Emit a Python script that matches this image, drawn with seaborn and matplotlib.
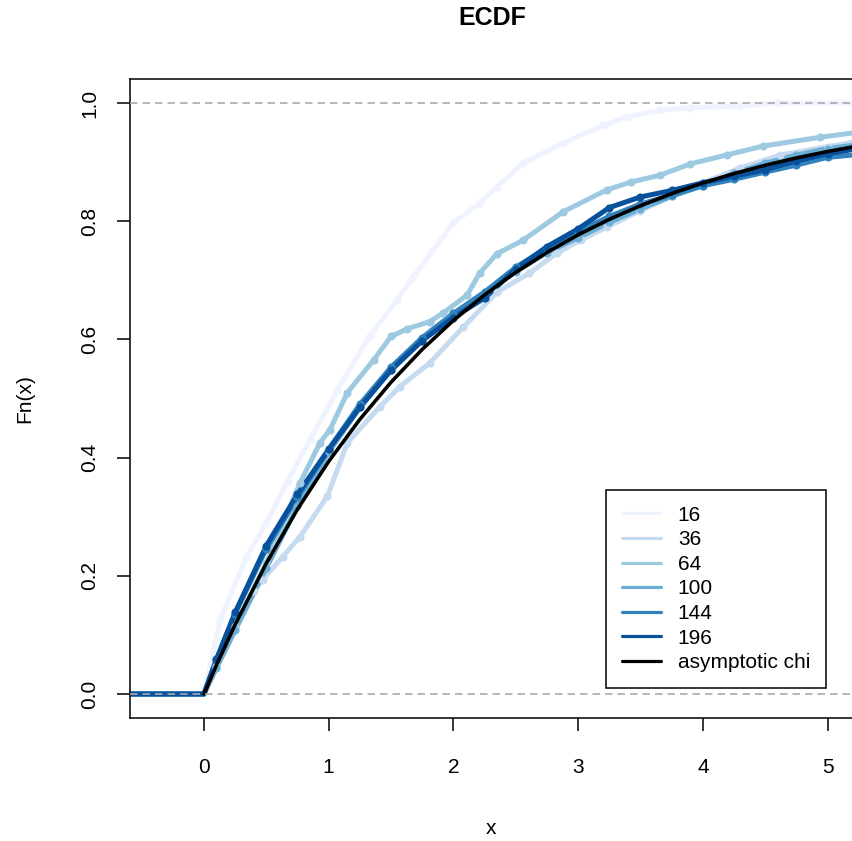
import matplotlib
matplotlib.use("Agg")
import matplotlib.pyplot as plt
import pandas as pd
import seaborn as sns
from matplotlib.lines import Line2D

sns.set_theme(style="white")
plt.rcParams["font.family"] = ["Liberation Sans", "DejaVu Sans"]
plt.rcParams["text.color"] = "black"
plt.rcParams["axes.labelcolor"] = "black"

# Sample sizes of the simulated statistics and their colours
sizes = ["16", "36", "64", "100", "144", "196"]
colors = ["#EFF3FF", "#C6DBEF", "#9ECAE1", "#6BAED6", "#3182BD", "#08519C"]

# Empirical CDF values (Fn) at selected x positions for each sample size
x_16 = [-0.6, 0, 0.13, 0.34, 0.5, 0.67, 0.85, 1.07, 1.33, 1.55, 1.68, 2.0, 2.21,
        2.35, 2.56, 2.88, 3.2, 3.39, 3.66, 3.9, 4.3, 4.6, 5.3]
F_16 = [0, 0, 0.125, 0.232, 0.289, 0.36, 0.43, 0.514, 0.606, 0.667, 0.706, 0.797,
        0.831, 0.858, 0.898, 0.932, 0.962, 0.976, 0.988, 0.992, 0.995, 1.0, 1.0]

x_36 = [-0.6, 0, 0.1, 0.25, 0.4, 0.47, 0.63, 0.77, 0.99, 1.15, 1.41, 1.57, 1.81,
        2.08, 2.35, 2.61, 2.83, 3.02, 3.23, 3.5, 3.75, 4.0, 4.3, 4.62, 5.0, 5.3]
F_36 = [0, 0, 0.045, 0.112, 0.175, 0.193, 0.232, 0.266, 0.335, 0.425, 0.486, 0.52,
        0.56, 0.621, 0.68, 0.712, 0.746, 0.768, 0.79, 0.818, 0.842, 0.865, 0.89,
        0.912, 0.926, 0.937]

x_64 = [-0.6, 0, 0.1, 0.25, 0.5, 0.77, 0.93, 1.01, 1.15, 1.36, 1.5, 1.63, 1.81,
        1.92, 2.11, 2.21, 2.35, 2.56, 2.88, 3.23, 3.42, 3.66, 3.9, 4.19, 4.48,
        4.94, 5.3]
F_64 = [0, 0, 0.047, 0.115, 0.222, 0.357, 0.425, 0.447, 0.51, 0.565, 0.605, 0.618,
        0.63, 0.645, 0.675, 0.712, 0.745, 0.768, 0.816, 0.853, 0.866, 0.878,
        0.897, 0.912, 0.927, 0.942, 0.952]

x_grid = [-0.6, 0, 0.1, 0.25, 0.5, 0.75, 1.0, 1.25, 1.5, 1.75, 2.0, 2.25, 2.5,
          2.75, 3.0, 3.25, 3.5, 3.75, 4.0, 4.25, 4.5, 4.75, 5.0, 5.3]
F_100 = [0, 0, 0.044, 0.108, 0.213, 0.318, 0.409, 0.485, 0.548, 0.598, 0.642,
         0.680, 0.714, 0.747, 0.772, 0.798, 0.821, 0.842, 0.860, 0.881, 0.898,
         0.912, 0.923, 0.931]
F_144 = [0, 0, 0.057, 0.136, 0.246, 0.333, 0.414, 0.490, 0.553, 0.603, 0.644,
         0.680, 0.722, 0.755, 0.782, 0.808, 0.829, 0.844, 0.860, 0.871, 0.883,
         0.895, 0.908, 0.914]
F_196 = [0, 0, 0.059, 0.138, 0.251, 0.338, 0.414, 0.485, 0.548, 0.598, 0.637,
         0.670, 0.719, 0.757, 0.787, 0.823, 0.841, 0.852, 0.865, 0.876, 0.887,
         0.902, 0.914, 0.925]

# Asymptotic chi-square CDF
x_chi = [0, 0.1, 0.25, 0.5, 0.75, 1.0, 1.25, 1.5, 1.75, 2.0, 2.25, 2.5, 2.75,
         3.0, 3.25, 3.5, 3.75, 4.0, 4.25, 4.5, 4.75, 5.0, 5.3]
F_chi = [0, 0.0488, 0.1175, 0.2212, 0.3127, 0.3935, 0.4647, 0.5276, 0.5831,
         0.6321, 0.6753, 0.7135, 0.7471, 0.7769, 0.8031, 0.8262, 0.8466, 0.8647,
         0.8806, 0.8946, 0.9070, 0.9179, 0.9294]

series = [(x_16, F_16), (x_36, F_36), (x_64, F_64),
          (x_grid, F_100), (x_grid, F_144), (x_grid, F_196)]
df = pd.concat(
    [pd.DataFrame({"x": xs, "Fn": fs, "n": n}) for n, (xs, fs) in zip(sizes, series)],
    ignore_index=True,
)

fig = plt.figure(figsize=(8.53, 8.41), dpi=100)
ax = fig.add_axes([130 / 853, 1 - 718 / 841, 723 / 853, 639 / 841])

for n, c in zip(sizes, colors):
    sub = df[df["n"] == n]
    sns.lineplot(data=sub, x="x", y="Fn", color=c, lw=3.6, estimator=None,
                 sort=False, ax=ax, legend=False)
    pts = sub[sub["x"] > 0.05]
    sns.scatterplot(data=pts, x="x", y="Fn", color=c, s=34, linewidth=0,
                    ax=ax, legend=False, zorder=3)

sns.lineplot(x=x_chi, y=F_chi, color="black", lw=2.6, estimator=None, sort=False,
             ax=ax, legend=False, zorder=4)

for h in (0, 1):
    ax.axhline(h, color="#AAAAAA", lw=1.2, ls=(0, (4.5, 3)), zorder=5)

ax.set_xlim(-0.593, 5.204)
ax.set_ylim(-0.0406, 1.0406)
ax.set_xticks([0, 1, 2, 3, 4, 5])
ax.set_yticks([0, 0.2, 0.4, 0.6, 0.8, 1.0])
ax.set_yticklabels(["0.0", "0.2", "0.4", "0.6", "0.8", "1.0"], rotation=90, va="center")
ax.tick_params(axis="both", which="both", direction="out", length=9.5, width=1.1,
               color="black", labelsize=15, labelcolor="black", bottom=True, left=True)
ax.tick_params(axis="x", pad=19.5)
ax.tick_params(axis="y", pad=12.5)
for sp in ax.spines.values():
    sp.set_visible(True)
    sp.set_color("black")
    sp.set_linewidth(1.1)

ax.set_xlabel("x", fontsize=15, va="center", color="black")
ax.set_ylabel("Fn(x)", fontsize=15, va="center", color="black")
ax.xaxis.set_label_coords(0.5, (718 - 829) / 639)
ax.yaxis.set_label_coords((25 - 130) / 723, 0.5)

fig.text(492 / 853, 1 - 18 / 841, "ECDF", ha="center", va="center",
         fontsize=18, fontweight="bold", color="black")

handles = [Line2D([], [], color=c, lw=2.3) for c in colors]
handles.append(Line2D([], [], color="black", lw=2.3))
labels = sizes + ["asymptotic chi"]
leg = ax.legend(handles, labels, loc="upper left",
                bbox_to_anchor=((606 - 130) / 723, (718 - 490) / 639),
                bbox_transform=ax.transAxes, frameon=True, fancybox=False,
                edgecolor="black", framealpha=1, fontsize=15, handlelength=1.9,
                handletextpad=0.8, labelspacing=0.27, borderpad=0.75,
                borderaxespad=0)
leg.get_frame().set_linewidth(1.1)
for t in leg.get_texts():
    t.set_color("black")
leg.set_zorder(10)

fig.savefig("out.png", dpi=100)
